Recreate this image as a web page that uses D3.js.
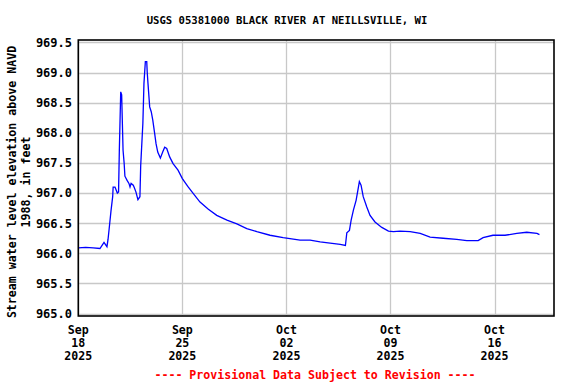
<!DOCTYPE html>
<html>
<head>
<meta charset="utf-8">
<script src="https://cdn.jsdelivr.net/npm/d3@7"></script>
<style>
  body { margin: 0; background: #fff; }
  text { font-family: "DejaVu Sans Mono", monospace; font-weight: bold; }
</style>
</head>
<body>
<script>
// données
const times = [
  "2025-09-18 00:00", "2025-09-18 12:00", "2025-09-19 00:00", "2025-09-19 11:00",
  "2025-09-19 17:30", "2025-09-19 22:15", "2025-09-20 00:00", "2025-09-20 02:45",
  "2025-09-20 04:45", "2025-09-20 07:30", "2025-09-20 08:15", "2025-09-20 11:15",
  "2025-09-20 15:00", "2025-09-20 17:00", "2025-09-20 18:15", "2025-09-20 20:30",
  "2025-09-20 22:00", "2025-09-21 00:15", "2025-09-21 02:00", "2025-09-21 03:15",
  "2025-09-21 06:45", "2025-09-21 09:45", "2025-09-21 11:30", "2025-09-21 13:15",
  "2025-09-21 16:45", "2025-09-21 18:00", "2025-09-21 21:00", "2025-09-22 00:15",
  "2025-09-22 03:30", "2025-09-22 04:45", "2025-09-22 08:15", "2025-09-22 10:00",
  "2025-09-22 12:15", "2025-09-22 14:30", "2025-09-22 15:15", "2025-09-22 16:30",
  "2025-09-22 19:15", "2025-09-22 21:45", "2025-09-23 00:15", "2025-09-23 03:15",
  "2025-09-23 05:30", "2025-09-23 08:15", "2025-09-23 12:30", "2025-09-23 16:15",
  "2025-09-23 19:30", "2025-09-23 22:45", "2025-09-24 03:30", "2025-09-24 09:00",
  "2025-09-24 17:00", "2025-09-25 00:00", "2025-09-25 08:45", "2025-09-25 17:45",
  "2025-09-26 04:30", "2025-09-26 18:00", "2025-09-27 07:30", "2025-09-28 00:00",
  "2025-09-28 16:00", "2025-09-29 08:00", "2025-09-30 00:15", "2025-09-30 21:30",
  "2025-10-01 18:45", "2025-10-02 22:00", "2025-10-03 14:15", "2025-10-04 06:30",
  "2025-10-04 22:30", "2025-10-05 14:45", "2025-10-05 23:15", "2025-10-06 01:30",
  "2025-10-06 05:45", "2025-10-06 08:30", "2025-10-06 12:15", "2025-10-06 16:30",
  "2025-10-06 20:15", "2025-10-06 21:45", "2025-10-07 00:30", "2025-10-07 04:00",
  "2025-10-07 09:45", "2025-10-07 15:00", "2025-10-07 23:00", "2025-10-08 10:00",
  "2025-10-08 20:45", "2025-10-09 04:45", "2025-10-09 15:30", "2025-10-10 07:45",
  "2025-10-11 00:00", "2025-10-11 16:00", "2025-10-12 13:00", "2025-10-13 11:00",
  "2025-10-14 03:15", "2025-10-14 21:30", "2025-10-15 05:30", "2025-10-15 21:30",
  "2025-10-16 17:00", "2025-10-17 12:00", "2025-10-18 04:00", "2025-10-18 20:30",
  "2025-10-19 00:30"
]

const niveaux = [
  966.09, 966.10, 966.09, 966.08,
  966.18, 966.11, 966.23, 966.50,
  966.70, 966.94, 967.10, 967.10,
  967.00, 967.02, 967.71, 968.68,
  968.63, 967.71, 967.50, 967.28,
  967.21, 967.16, 967.10, 967.16,
  967.13, 967.10, 967.02, 966.89,
  966.94, 967.46, 968.16, 968.82,
  969.18, 969.18, 969.01, 968.82,
  968.43, 968.35, 968.21, 967.99,
  967.82, 967.68, 967.58, 967.68,
  967.76, 967.74, 967.60, 967.49,
  967.38, 967.24, 967.11, 966.99,
  966.85, 966.73, 966.63, 966.55,
  966.49, 966.41, 966.36, 966.30,
  966.26, 966.22, 966.22, 966.19,
  966.17, 966.15, 966.13, 966.34,
  966.38, 966.55, 966.72, 966.88,
  967.10, 967.19, 967.13, 966.94,
  966.77, 966.63, 966.52, 966.43,
  966.37, 966.36, 966.37, 966.36,
  966.33, 966.27, 966.25, 966.23,
  966.21, 966.21, 966.26, 966.30,
  966.30, 966.33, 966.35, 966.33,
  966.31
]

const yTicks = [965.0, 965.5, 966.0, 966.5, 967.0, 967.5, 968.0, 968.5, 969.0, 969.5]
const xTicks = ["2025-09-18", "2025-09-25", "2025-10-02", "2025-10-09", "2025-10-16"]

const titre = "USGS 05381000 BLACK RIVER AT NEILLSVILLE, WI"
const titreY = ["Stream water level elevation above NAVD", "1988, in feet"]
const avertissement = "---- Provisional Data Subject to Revision ----"

//Définition des marges
let margin = { top: 40, right: 22, bottom: 68, left: 78.3 };
let W = 576, H = 384;
let width = W - margin.left - margin.right,
    height = H - margin.top - margin.bottom;

let parseT = d3.timeParse("%Y-%m-%d %H:%M")
let parseD = d3.timeParse("%Y-%m-%d")

const data = times.map((t, i) => ({ date: parseT(t), valeur: niveaux[i] }))

let svg = d3.select("body")
    .append("svg")
    .attr("width", W)
    .attr("height", H)

let x = d3.scaleTime()
    .domain([parseD("2025-09-18"), parseD("2025-10-20")])
    .range([margin.left, margin.left + width])

let y = d3.scaleLinear()
    .domain([964.96, 969.54])
    .range([margin.top + height, margin.top])

// grille
svg.append("g")
    .selectAll("line.gy")
    .data(yTicks)
    .enter().append("line")
    .attr("x1", margin.left).attr("x2", margin.left + width)
    .attr("y1", d => Math.round(y(d)) + 0.5).attr("y2", d => Math.round(y(d)) + 0.5)
    .attr("stroke", "#c8c8c8").attr("stroke-width", 1.3)

svg.append("g")
    .selectAll("line.gx")
    .data(xTicks)
    .enter().append("line")
    .attr("x1", d => Math.round(x(parseD(d))) + 0.5).attr("x2", d => Math.round(x(parseD(d))) + 0.5)
    .attr("y1", margin.top).attr("y2", margin.top + height)
    .attr("stroke", "#c8c8c8").attr("stroke-width", 1.3)

// courbe
let line = d3.line()
    .x(d => x(d.date))
    .y(d => y(d.valeur))

svg.append("path")
    .datum(data)
    .attr("d", line)
    .attr("fill", "none")
    .attr("stroke", "#0000ff")
    .attr("stroke-width", 1.3)

// cadre
svg.append("rect")
    .attr("x", margin.left)
    .attr("y", margin.top)
    .attr("width", width)
    .attr("height", height)
    .attr("fill", "none")
    .attr("stroke", "#000")
    .attr("stroke-width", 1.6)

// étiquettes y
svg.append("g")
    .selectAll("text")
    .data(yTicks)
    .enter().append("text")
    .attr("x", 72)
    .attr("y", d => y(d))
    .attr("dy", "0.36em")
    .attr("text-anchor", "end")
    .style("font-size", "12px")
    .text(d => d3.format(".1f")(d))

// étiquettes x
let fmt = [d3.timeFormat("%b"), d3.timeFormat("%d"), d3.timeFormat("%Y")]
let xl = svg.append("g")
    .selectAll("text")
    .data(xTicks)
    .enter().append("text")
    .attr("text-anchor", "middle")
    .style("font-size", "11.6px")

fmt.forEach((f, k) => {
    xl.append("tspan")
        .attr("x", d => x(parseD(d)))
        .attr("y", 334 + k * 13)
        .text(d => f(parseD(d)))
})

// titre
svg.append("text")
    .attr("x", 287)
    .attr("y", 24)
    .attr("text-anchor", "middle")
    .style("font-size", "10.6px")
    .text(titre)

// titre axe y
titreY.forEach((t, k) => {
    svg.append("text")
        .attr("transform", "translate(" + (15.5 + k * 14) + "," + 182 + ") rotate(-90)")
        .attr("text-anchor", "middle")
        .style("font-size", "11.6px")
        .text(t)
})

svg.append("text")
    .attr("x", 315)
    .attr("y", 379)
    .attr("text-anchor", "middle")
    .style("font-size", "11.6px")
    .style("fill", "#ff0000")
    .text(avertissement)
</script>
</body>
</html>
